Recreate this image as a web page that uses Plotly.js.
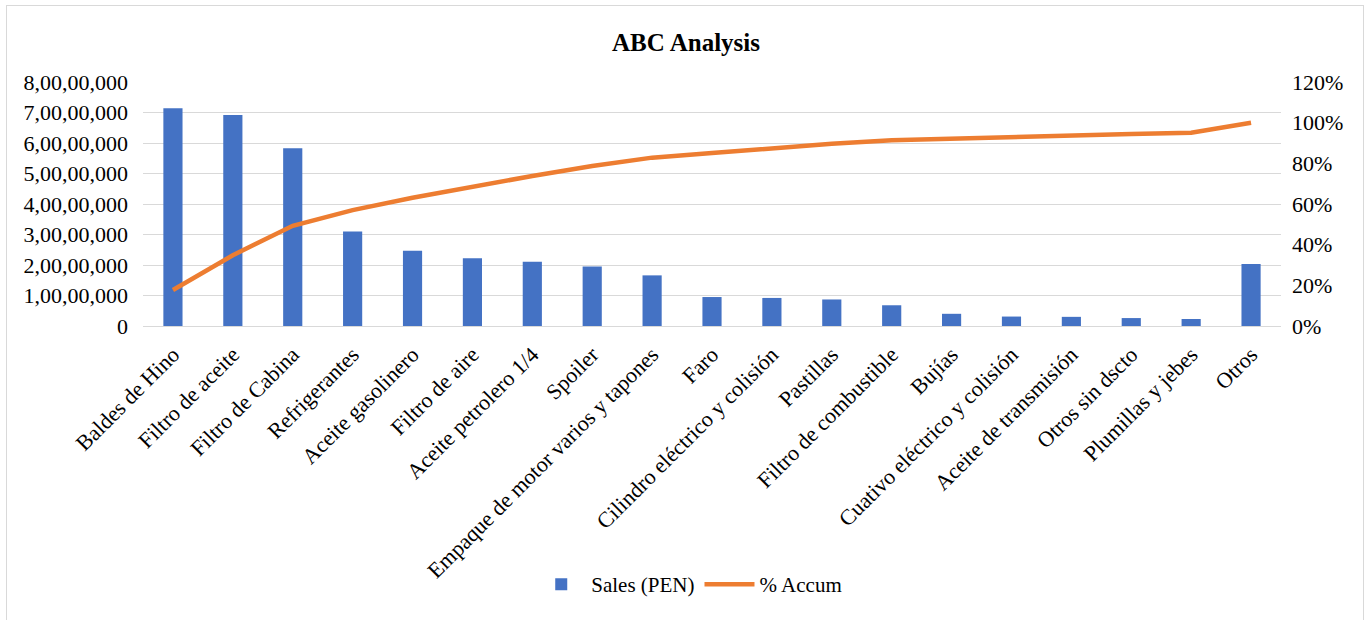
<!DOCTYPE html>
<html>
<head>
<meta charset="utf-8">
<script src="https://cdn.plot.ly/plotly-3.0.1.min.js"></script>
<style>
  html, body { margin: 0; padding: 0; background: #ffffff; }
  #chart { width: 1368px; height: 620px; }
  #frame {
    position: absolute; left: 6px; top: 5px; width: 1358px; height: 620px;
    border: 1px solid #d9d9d9; box-sizing: border-box; pointer-events: none;
  }
</style>
</head>
<body>
<div id="chart"></div>
<div id="frame"></div>
<script>
// Product categories, sorted by sales
const categories = [
  "Baldes de Hino", "Filtro de aceite", "Filtro de Cabina", "Refrigerantes",
  "Aceite gasolinero", "Filtro de aire", "Aceite petrolero 1/4", "Spoiler",
  "Empaque de motor varios y tapones", "Faro", "Cilindro eléctrico y colisión",
  "Pastillas", "Filtro de combustible", "Bujías", "Cuativo eléctrico y colisión",
  "Aceite de transmisión", "Otros sin dscto", "Plumillas y jebes", "Otros"
];

// Sales in PEN
const sales = [
  71400000, 69200000, 58300000, 31000000, 24700000, 22200000, 21100000,
  19500000, 16600000, 9500000, 9200000, 8700000, 6800000, 4000000,
  3100000, 3000000, 2600000, 2300000, 20300000
];

// Cumulative share of sales (fraction)
const accum = [
  0.177, 0.348, 0.493, 0.570, 0.631, 0.686, 0.738, 0.787, 0.828, 0.851,
  0.874, 0.896, 0.913, 0.922, 0.930, 0.938, 0.944, 0.950, 1.000
];

// Left axis ticks (Indian digit grouping)
const salesTickVals = [0, 10000000, 20000000, 30000000, 40000000, 50000000, 60000000, 70000000, 80000000];
const salesTickText = ["0", "1,00,00,000", "2,00,00,000", "3,00,00,000", "4,00,00,000",
                       "5,00,00,000", "6,00,00,000", "7,00,00,000", "8,00,00,000"];

// Right axis ticks
const pctTickVals = [0, 0.2, 0.4, 0.6, 0.8, 1.0, 1.2];
const pctTickText = ["0%", "20%", "40%", "60%", "80%", "100%", "120%"];

const serif = "Liberation Serif";

const traces = [
  {
    type: "bar",
    name: "Sales (PEN)",
    x: categories,
    y: sales,
    marker: { color: "#4472C4" },
    yaxis: "y",
    hoverinfo: "x+y"
  },
  {
    type: "scatter",
    mode: "lines",
    name: "% Accum",
    x: categories,
    y: accum,
    line: { color: "#ED7D31", width: 4.5 },
    yaxis: "y2"
  }
];

const layout = {
  width: 1368,
  height: 620,
  paper_bgcolor: "#ffffff",
  plot_bgcolor: "#ffffff",
  margin: { l: 143, r: 87, t: 82, b: 294, pad: 0 },
  font: { family: serif, size: 22, color: "#000000" },
  title: {
    text: "ABC Analysis",
    font: { family: serif, size: 25, weight: 700, color: "#000000" },
    x: 686 / 1368, xref: "container", xanchor: "center",
    y: 1 - 42 / 620, yref: "container", yanchor: "middle"
  },
  bargap: 0.68,
  showlegend: true,
  legend: {
    orientation: "h",
    x: 0.48, xanchor: "center",
    y: -1.06, yanchor: "middle",
    font: { family: serif, size: 21, color: "#000000" },
    itemwidth: 50,
    traceorder: "normal"
  },
  xaxis: {
    type: "category",
    tickangle: -45,
    tickfont: { family: serif, size: 22, color: "#000000" },
    showgrid: false,
    showline: true,
    linecolor: "#d9d9d9",
    linewidth: 1,
    ticks: "",
    ticklabelstandoff: 6,
    automargin: false
  },
  yaxis: {
    range: [0, 80000000],
    tickvals: salesTickVals,
    ticktext: salesTickText,
    tickfont: { family: serif, size: 22, color: "#000000" },
    showgrid: true,
    gridcolor: "#d9d9d9",
    gridwidth: 1,
    zeroline: false,
    showline: false,
    ticks: "",
    ticklabelstandoff: 14,
    automargin: false
  },
  yaxis2: {
    overlaying: "y",
    side: "right",
    range: [0, 1.2],
    tickvals: pctTickVals,
    ticktext: pctTickText,
    tickfont: { family: serif, size: 22, color: "#000000" },
    showgrid: false,
    zeroline: false,
    showline: false,
    ticks: "",
    ticklabelstandoff: 10,
    automargin: false
  }
};

Plotly.newPlot("chart", traces, layout, { displayModeBar: false });
</script>
</body>
</html>
